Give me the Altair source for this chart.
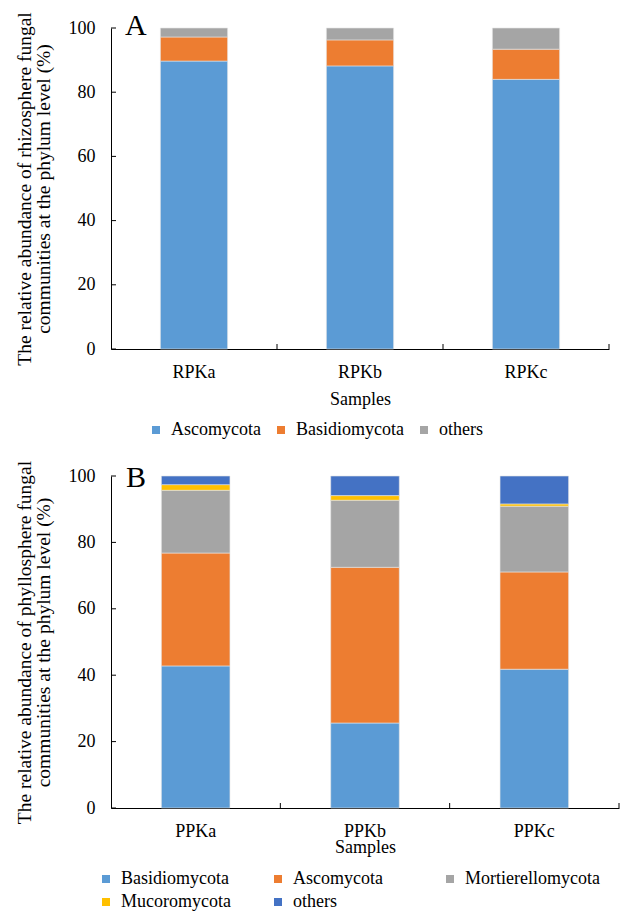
import altair as alt
import pandas as pd

FONT = "Liberation Serif"

# Panel A (rhizosphere)
samples_a = ["RPKa", "RPKb", "RPKc"]
phyla_a = ["Ascomycota", "Basidiomycota", "others"]
ascomycota_a = [89.7, 88.2, 84.0]
basidiomycota_a = [7.5, 8.1, 9.4]
others_a = [2.8, 3.7, 6.6]
colors_a = ["#5B9BD5", "#ED7D31", "#A5A5A5"]

# Panel B (phyllosphere)
samples_b = ["PPKa", "PPKb", "PPKc"]
phyla_b = ["Basidiomycota", "Ascomycota", "Mortierellomycota", "Mucoromycota", "others"]
basidiomycota_b = [42.8, 25.6, 41.8]
ascomycota_b = [34.0, 46.9, 29.3]
mortierellomycota_b = [18.9, 20.2, 19.8]
mucoromycota_b = [1.7, 1.4, 0.7]
others_b = [2.6, 5.9, 8.4]
colors_b = ["#5B9BD5", "#ED7D31", "#A5A5A5", "#FFC000", "#4472C4"]

yticks = [0, 20, 40, 60, 80, 100]

title_a = ["The relative abundance of rhizosphere fungal",
           "communities at the phylum level (%)"]
title_b = ["The relative abundance of  phyllosphere  fungal",
           "communities at the phylum level (%)"]


def panel(samples, phyla, series, colors, letter, ytitle, W, H,
          legend_cols, legend_x, legend_y, col_pad, grid_align,
          letter_x, letter_y, x_title_pad):
    rows = []
    for pi, (p, vals) in enumerate(zip(phyla, series)):
        for s, v in zip(samples, vals):
            rows.append({"sample": s, "phylum": p, "value": v, "order": pi})
    df = pd.DataFrame(rows)
    xs = alt.Scale(domain=samples, paddingInner=0, paddingOuter=0)
    ys = alt.Scale(domain=[0, 100], nice=False)
    xaxis = alt.Axis(title="Samples", ticks=False, tickSize=0,
                     labelAngle=0, labelPadding=14, titlePadding=x_title_pad,
                     labelFont=FONT, titleFont=FONT)
    yaxis = alt.Axis(values=yticks, title=ytitle, ticks=False,
                     tickSize=0, labelPadding=16, grid=False,
                     titlePadding=15, titleLineHeight=19, titleFontSize=19.5,
                     labelFont=FONT, titleFont=FONT)

    bars = alt.Chart(df).mark_bar(
        width=alt.RelativeBandSize(0.405), stroke="#e6e6e6", strokeWidth=0.6
    ).encode(
        x=alt.X("sample:N", scale=xs, sort=samples, axis=xaxis),
        y=alt.Y("value:Q", scale=ys, stack="zero", axis=yaxis),
        color=alt.Color("phylum:N", scale=alt.Scale(domain=phyla, range=colors),
                        legend=alt.Legend(orient="none", legendX=legend_x,
                                          legendY=legend_y, direction="horizontal",
                                          columns=legend_cols, title=None,
                                          symbolType="square", symbolSize=64,
                                          symbolStrokeWidth=0,
                                          labelFont=FONT, labelFontSize=18,
                                          labelColor="black", labelOffset=6,
                                          columnPadding=col_pad, rowPadding=5,
                                          gridAlign=grid_align, labelLimit=300)),
        order=alt.Order("order:Q", sort="ascending"),
    )

    ytick = alt.Chart(pd.DataFrame({"value": yticks})).mark_rule(
        color="black", strokeWidth=1
    ).encode(
        y=alt.Y("value:Q", scale=ys, axis=yaxis),
        x=alt.value(0), x2=alt.value(5),
    )

    xtick = alt.Chart(pd.DataFrame({"sample": samples})).mark_rule(
        color="black", strokeWidth=1
    ).encode(
        x=alt.X("sample:N", scale=xs, sort=samples, bandPosition=1, axis=xaxis),
        y=alt.value(H - 5), y2=alt.value(H),
    )

    lt = alt.Chart(pd.DataFrame({"label": [letter]})).mark_text(
        font=FONT, fontSize=30, align="left", baseline="alphabetic", color="black"
    ).encode(text="label:N", x=alt.value(letter_x), y=alt.value(letter_y))

    return alt.layer(bars, ytick, xtick, lt).properties(width=W, height=H)


chart_a = panel(samples_a, phyla_a, [ascomycota_a, basidiomycota_a, others_a],
                colors_a, "A", title_a, 498, 321,
                3, 36, 393, 11, "each", 14, 7, 9)
chart_b = panel(samples_b, phyla_b,
                [basidiomycota_b, ascomycota_b, mortierellomycota_b,
                 mucoromycota_b, others_b],
                colors_b, "B", title_b, 508, 332,
                3, -14, 394, 13, "all", 15, 11, -2)

chart = alt.vconcat(chart_a, chart_b, spacing=16).resolve_scale(
    color="independent", x="independent", y="independent"
).configure_view(stroke=None).configure_axis(
    labelFont=FONT, labelFontSize=18, labelColor="black",
    titleFont=FONT, titleFontSize=18, titleColor="black",
    titleFontWeight="normal", domainColor="black", domainWidth=1,
).properties(padding={"left": 6, "top": 3, "right": 5, "bottom": 5})

chart.save("out.html", embed_options={"renderer": "svg", "actions": False})
